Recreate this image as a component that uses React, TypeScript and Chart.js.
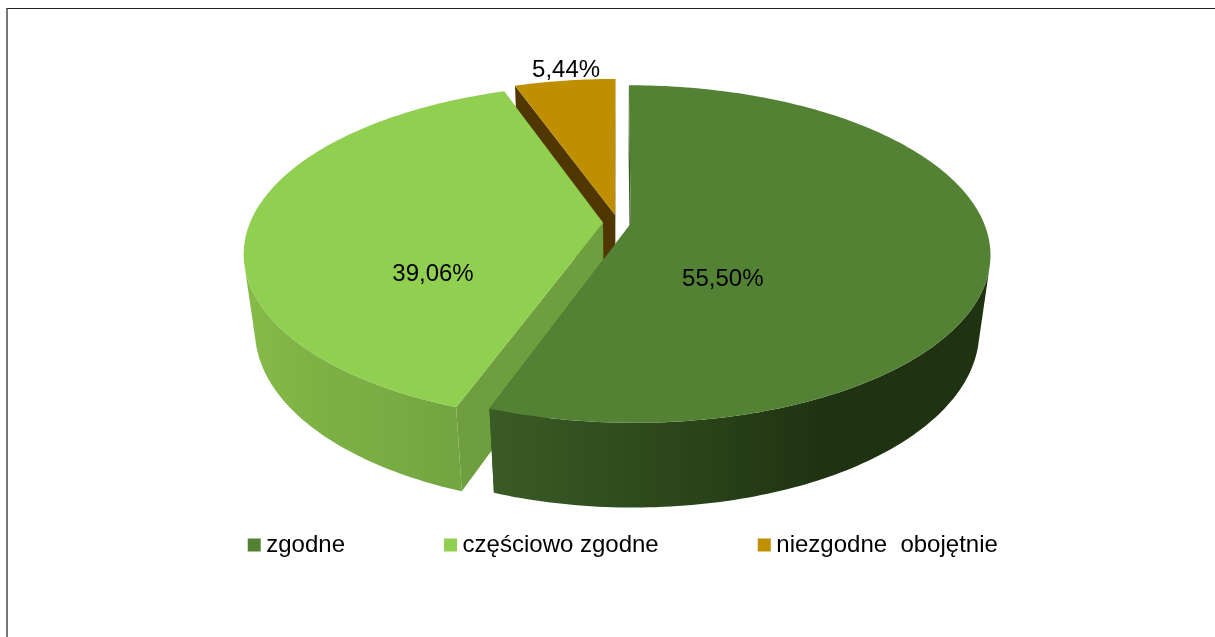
import React, { useEffect, useRef } from "react";
import { Chart, registerables } from "chart.js";

Chart.register(...registerables);

const categories = ["zgodne", "częściowo zgodne", "niezgodne  obojętnie"];
const values = [55.5, 39.06, 5.44];
const topColors = ["#548235", "#90CF50", "#BF8F00"];
const cutColors = ["#385723", "#6F9E3E", "#503600"];
const wallStops: string[][] = [
  ["#3A5B25", "#2D491C", "#1F3312", "#1F3312"],
  ["#86BA48", "#7DB044", "#76A941", "#6E9F3E"],
  ["#503600", "#503600", "#503600", "#503600"],
];
const explode = [13, 15, 17];
const labelShift = [
  [92, 56],
  [-170, 52],
  [-49, -145],
];

const FONT = '"Liberation Sans", Arial, sans-serif';
const RADIUS = 200;
const ASPECT_X = 353 / RADIUS;
const ASPECT_Y = 163 / RADIUS;
const PERSPECTIVE = 0.179;
const DEPTH_SCALE = 0.03;
const DEPTH = 78 / RADIUS;
const SHIFT_X = -8;

const pie3d = {
  id: "pie3d",
  beforeDatasetDraw(chart: any) {
    const ctx = chart.ctx as CanvasRenderingContext2D;
    const arcs = chart.getDatasetMeta(0).data as any[];
    const project = (u: number, v: number, z: number, cx: number, cy: number, R: number) => {
      const s = 1 / (1 + PERSPECTIVE * v + DEPTH_SCALE * z);
      return [cx + u * ASPECT_X * R * s, cy + (-v * ASPECT_Y * R + z * DEPTH * R) * s];
    };
    const order = arcs.map((_, i) => i).reverse();
    for (const i of order) {
      const arc = arcs[i];
      const R = arc.outerRadius;
      const cx = arc.x + SHIFT_X;
      const cy = arc.y;
      const mid = (arc.startAngle + arc.endAngle) / 2;
      const off = (arc.options.offset || 0) / (ASPECT_X * R);
      const ou = Math.cos(mid) * off;
      const ov = -Math.sin(mid) * off;
      const n = Math.max(2, Math.ceil(((arc.endAngle - arc.startAngle) * 180) / Math.PI));
      const rim = (z: number) => {
        const pts: number[][] = [];
        for (let k = 0; k <= n; k++) {
          const a = arc.startAngle + ((arc.endAngle - arc.startAngle) * k) / n;
          pts.push(project(ou + Math.cos(a), ov - Math.sin(a), z, cx, cy, R));
        }
        return pts;
      };
      const apexTop = project(ou, ov, 0, cx, cy, R);
      const apexBot = project(ou, ov, 1, cx, cy, R);
      const top = rim(0);
      const bot = rim(1);
      const trace = (pts: number[][]) => {
        pts.forEach((p, k) => (k ? ctx.lineTo(p[0], p[1]) : ctx.moveTo(p[0], p[1])));
        ctx.closePath();
      };
      const poly = (pts: number[][], fill: any) => {
        ctx.beginPath();
        trace(pts);
        ctx.fillStyle = fill;
        ctx.fill();
      };
      poly([apexTop, top[0], bot[0], apexBot], cutColors[i]);
      poly([apexTop, top[n], bot[n], apexBot], cutColors[i]);
      const xs = top.map((p) => p[0]);
      const g = ctx.createLinearGradient(Math.min(...xs), 0, Math.max(...xs), 0);
      wallStops[i].forEach((c, k) => g.addColorStop(k / (wallStops[i].length - 1), c));
      ctx.beginPath();
      for (let k = 0; k < n; k++) {
        const q = [top[k], top[k + 1], bot[k + 1], bot[k]];
        let area = 0;
        q.forEach((p, j) => {
          const r = q[(j + 1) % 4];
          area += p[0] * r[1] - r[0] * p[1];
        });
        if (area < 0) trace(q);
      }
      ctx.fillStyle = g;
      ctx.fill();
      poly([apexTop, ...top], arc.options.backgroundColor);
    }
    ctx.font = `24px ${FONT}`;
    ctx.fillStyle = "#000";
    ctx.textAlign = "center";
    ctx.textBaseline = "middle";
    arcs.forEach((arc, i) => {
      const mid = (arc.startAngle + arc.endAngle) / 2;
      const off = (arc.options.offset || 0) / (ASPECT_X * arc.outerRadius);
      const c = project(Math.cos(mid) * off, -Math.sin(mid) * off, 0, arc.x + SHIFT_X, arc.y, arc.outerRadius);
      const text = values[i].toFixed(2).replace(".", ",") + "%";
      ctx.fillText(text, c[0] + labelShift[i][0], c[1] + labelShift[i][1]);
    });
    return false;
  },
};

export default function App() {
  const ref = useRef<HTMLCanvasElement>(null);
  useEffect(() => {
    const chart = new Chart(ref.current!, {
      type: "pie",
      data: {
        labels: categories,
        datasets: [
          {
            data: values,
            backgroundColor: topColors,
            borderWidth: 0,
            offset: explode,
          },
        ],
      },
      options: {
        animation: false,
        responsive: false,
        radius: RADIUS,
        layout: { padding: { left: 37, top: 18, bottom: 70 } },
        plugins: {
          tooltip: { enabled: false },
          legend: {
            position: "bottom",
            labels: {
              usePointStyle: true,
              pointStyle: "rect",
              boxWidth: 0.1,
              boxHeight: 13,
              padding: 105.5,
              color: "#000",
              font: { family: FONT, size: 24 },
            },
          },
        },
      },
      plugins: [pie3d],
    } as any);
    return () => chart.destroy();
  }, []);
  return (
    <div style={{ position: "fixed", left: 0, top: 0, width: 1215, height: 637, overflow: "hidden", background: "#fff" }}>
      <canvas ref={ref} width={1215} height={637} style={{ position: "absolute", left: 0, top: 0, width: 1215, height: 637 }} />
      <div style={{ position: "absolute", left: 6, top: 8, right: 0, bottom: 0, borderTop: "1px solid #222", borderLeft: "2px solid #777" }} />
    </div>
  );
}
